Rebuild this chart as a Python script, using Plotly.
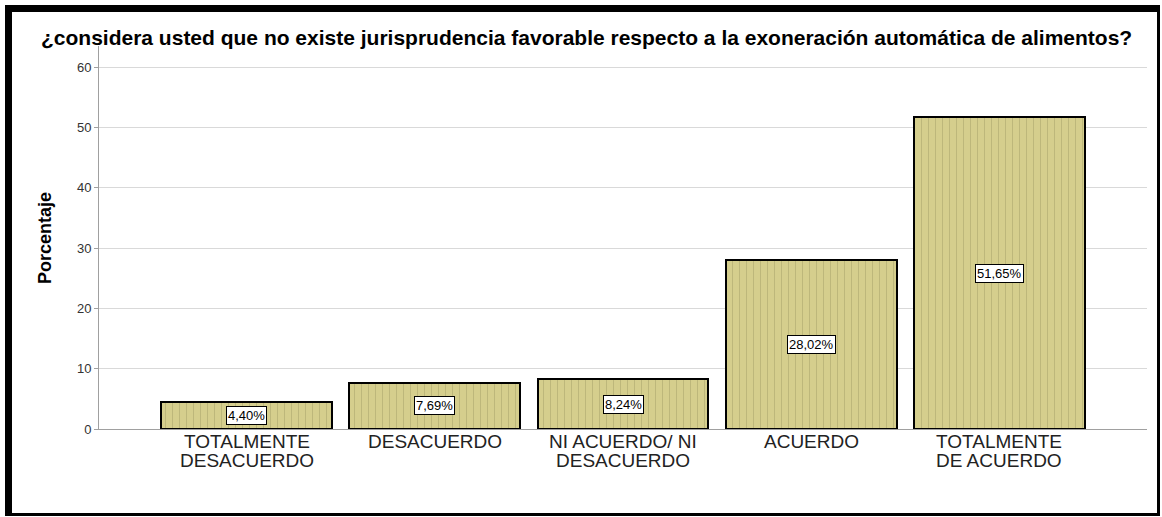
import plotly.graph_objects as go

categories = ["TOTALMENTE<br>DESACUERDO", "DESACUERDO", "NI ACUERDO/ NI<br>DESACUERDO",
              "ACUERDO", "TOTALMENTE<br>DE ACUERDO"]
percentages = [4.40, 7.69, 8.24, 28.02, 51.65]
y_ticks = [0, 10, 20, 30, 40, 50, 60]

title_text = "¿considera usted que no existe jurisprudencia favorable respecto a la exoneración automática de alimentos?"

W, H = 1162, 517
L, R, T, B = 99, 15, 46, 88
PW, PH = W - L - R, H - T - B


def px_x(px):
    return (px - L) / PW


def px_y(py):
    return (H - B - py) / PH


x_idx = list(range(len(categories)))
labels = [f"{v:.2f}".replace(".", ",") + "%" for v in percentages]

fig = go.Figure()
fig.add_trace(go.Bar(
    x=x_idx,
    y=percentages,
    width=0.908,
    marker=dict(
        color="#d5ce8d",
        line=dict(color="#000000", width=2),
        pattern=dict(shape="|", size=7, solidity=0.12, fgcolor="#9a9562"),
    ),
    hoverinfo="skip",
))

for xi, v, lab in zip(x_idx, percentages, labels):
    fig.add_annotation(
        x=xi, y=v / 2, xref="x", yref="y", text=lab, showarrow=False,
        font=dict(family="Liberation Sans, Arial", size=13, color="#000000"),
        bgcolor="#ffffff", bordercolor="#000000", borderwidth=1, borderpad=1,
    )

# category labels, one annotation per text line
for xi, cat in zip(x_idx, categories):
    for k, line in enumerate(cat.split("<br>")):
        fig.add_annotation(
            x=xi, y=px_y(441 + 19 * k), xref="x", yref="paper", text=line,
            showarrow=False, xanchor="center", yanchor="middle",
            font=dict(family="Liberation Sans, Arial", size=19, color="#222222"),
        )

fig.add_annotation(
    x=px_x(586), y=px_y(37), xref="paper", yref="paper", text=f"<b>{title_text}</b>",
    showarrow=False, xanchor="center", yanchor="middle",
    font=dict(family="Liberation Sans, Arial", size=21, color="#000000"),
)

fig.add_annotation(
    x=px_x(45), y=px_y(238), xref="paper", yref="paper", text="<b>Porcentaje</b>",
    showarrow=False, textangle=-90, xanchor="center", yanchor="middle",
    font=dict(family="Liberation Sans Narrow, Liberation Sans, Arial", size=18, color="#000000"),
)

# outer frame: heavy black border around the whole chart
frame = [
    (5, 5, 1160, 12),    # top
    (5, 5, 12, 516),     # left
    (1157, 5, 1160, 516),  # right
    (5, 513, 1160, 516),  # bottom
]
for x0, y0, x1, y1 in frame:
    fig.add_shape(type="rect", xref="paper", yref="paper",
                  x0=px_x(x0), x1=px_x(x1), y0=px_y(y1), y1=px_y(y0),
                  fillcolor="#000000", line=dict(width=0), layer="above")

fig.update_layout(
    width=W, height=H,
    margin=dict(l=L, r=R, t=T, b=B, pad=0),
    paper_bgcolor="#ffffff", plot_bgcolor="#ffffff",
    showlegend=False,
    bargap=0,
    xaxis=dict(
        range=[-0.784, 4.784], tickmode="array", tickvals=x_idx, showticklabels=False,
        showgrid=False, zeroline=False, showline=True, linecolor="#a0a0a0", linewidth=1,
        ticks="", fixedrange=True,
    ),
    yaxis=dict(
        range=[0, 63.5], tickmode="array", tickvals=y_ticks,
        showgrid=True, gridcolor="#d9d9d9", gridwidth=1, zeroline=False,
        showline=True, linecolor="#a0a0a0", linewidth=1,
        ticks="outside", ticklen=4, tickcolor="#a0a0a0",
        tickfont=dict(family="Liberation Sans, Arial", size=13, color="#333333"),
        fixedrange=True,
    ),
)

fig.write_html("out.html")
